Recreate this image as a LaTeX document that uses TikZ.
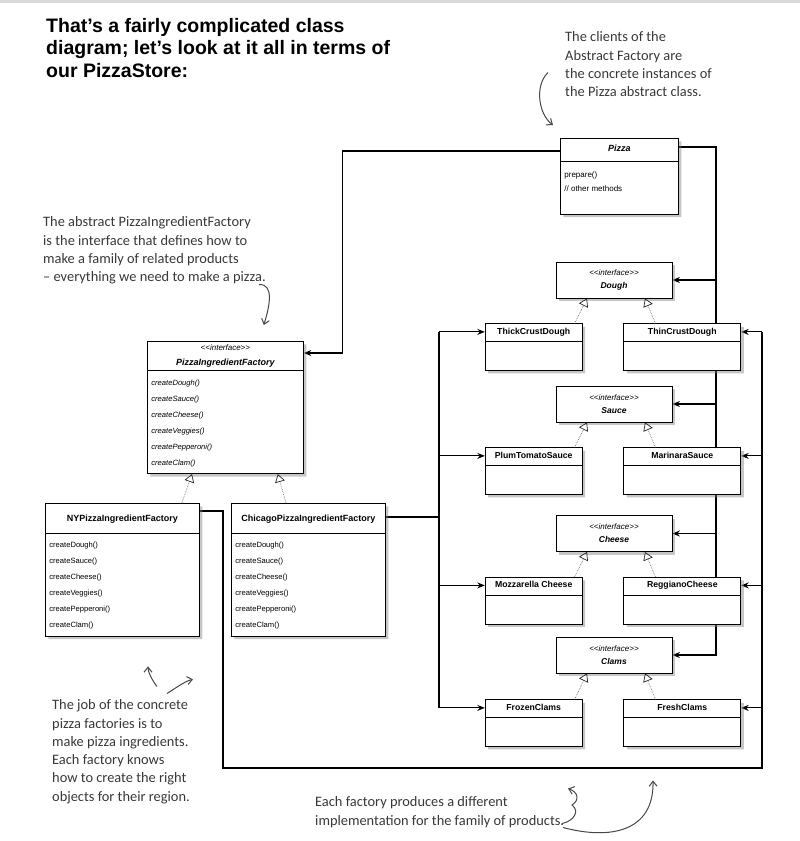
\documentclass[tikz,border=0pt]{standalone}
\usepackage{fontspec}
\setmainfont{Liberation Sans}
\newfontfamily\handfont{Carlito}
\usetikzlibrary{arrows.meta, positioning, calc, shapes.multipart, shadows, backgrounds}

% <<interface>> without the guillemet ligature
\newcommand{\stereo}{\textit{<\kern0pt<interface>\kern0pt>}}
\newcommand{\ifname}[1]{{\fontsize{8.5}{13}\selectfont\bfseries\itshape #1}}
\newcommand{\cname}[1]{{\fontsize{9}{15}\selectfont\bfseries #1}}
\newcommand{\opslist}[1]{\fontsize{7.6}{16}\selectfont\begin{tabular}{@{}l@{}}#1\end{tabular}}
\newcommand{\hstrut}{\rule[-4pt]{0pt}{11pt}}

\begin{document}
\begin{tikzpicture}[
    x=1pt, y=-1pt,
    >={Stealth[length=7.5pt,width=6pt]},
    umlbox/.style={draw, fill=white, line width=0.8pt,
      drop shadow={opacity=0.45, shadow xshift=3pt, shadow yshift=-3pt}},
    iface/.style={umlbox, minimum width=116pt, minimum height=36pt,
      inner sep=0pt, align=center, font=\fontsize{8}{13}\selectfont},
    product/.style={umlbox, rectangle split, rectangle split parts=2,
      rectangle split empty part height=22pt, rectangle split empty part depth=0pt,
      inner xsep=2pt, inner ysep=3pt, font=\bfseries\fontsize{8.7}{10}\selectfont},
    factory/.style={umlbox, rectangle split, rectangle split parts=2,
      rectangle split part align={center,left}, minimum width=154pt,
      inner xsep=4pt, inner ysep=3pt, align=center, font=\fontsize{8}{15}\selectfont},
    conn/.style={line width=1.1pt, ->},
    wire/.style={line width=1.1pt},
    realize/.style={densely dotted, line width=0.7pt, black!55,
      -{Triangle[open, length=8pt, width=10pt, color=black!85]}},
    note/.style={anchor=north west, align=left, inner sep=0pt, text=black!78,
      font=\handfont\fontsize{14.4}{18.3}\selectfont},
    hand/.style={line width=1pt, black!72, -{Straight Barb[length=5pt, width=8pt]}}
  ]
    \useasboundingbox (0,0) rectangle (800,841);
    \fill[black!15] (0,0) rectangle (800,2.5);

    % Title
    \node[anchor=north west, align=left, inner sep=0pt,
      font=\bfseries\fontsize{19.5}{22.5}\selectfont] (title) at (46,18)
      {That’s a fairly complicated class\\diagram; let’s look at it all in terms of\\our PizzaStore:};

    % Client and abstract factory
    \node[factory, minimum width=118pt, anchor=north west] (pizza) at (560,138)
      {\rule[-6pt]{0pt}{16pt}\cname{\itshape Pizza}\nodepart{two}\fontsize{8}{14}\selectfont
       \begin{tabular}{@{}l@{}}\rule{0pt}{13pt}prepare()\\// other methods\rule[-19pt]{0pt}{0pt}\end{tabular}};
    \node[factory, minimum width=156pt, anchor=north west] (pif) at (147,341)
      {\stereo\\\cname{\itshape PizzaIngredientFactory}\nodepart{two}\itshape
       \opslist{createDough()\\createSauce()\\createCheese()\\createVeggies()\\createPepperoni()\\createClam()}};

    % Concrete factories
    \node[factory, anchor=north west] (ny) at (45,503)
      {\rule[-8.5pt]{0pt}{23pt}\cname{NYPizzaIngredientFactory}\nodepart{two}
       \opslist{createDough()\\createSauce()\\createCheese()\\createVeggies()\\createPepperoni()\\createClam()}};
    \node[factory, anchor=north west] (chicago) at (231,503)
      {\rule[-8.5pt]{0pt}{23pt}\cname{ChicagoPizzaIngredientFactory}\nodepart{two}
       \opslist{createDough()\\createSauce()\\createCheese()\\createVeggies()\\createPepperoni()\\createClam()}};

    % Ingredient interfaces
    \node[iface] (dough)  at (614,280)   {\stereo\\\ifname{Dough}};
    \node[iface] (sauce)  at (614,404)   {\stereo\\\ifname{Sauce}};
    \node[iface] (cheese) at (614,533.5) {\stereo\\\ifname{Cheese}};
    \node[iface] (clams)  at (614,655)   {\stereo\\\ifname{Clams}};

    % Concrete ingredients
    \node[product, minimum width=97pt, below left=25pt and -27pt of dough.south west] (thick)
      {\hstrut ThickCrustDough\nodepart{two}};
    \node[product, minimum width=117pt, below right=25pt and -49pt of dough.south east] (thin)
      {\hstrut ThinCrustDough\nodepart{two}};
    \node[product, minimum width=97pt, below left=25pt and -27pt of sauce.south west] (plum)
      {\hstrut PlumTomatoSauce\nodepart{two}};
    \node[product, minimum width=117pt, below right=25pt and -49pt of sauce.south east] (marinara)
      {\hstrut MarinaraSauce\nodepart{two}};
    \node[product, minimum width=97pt, below left=25pt and -27pt of cheese.south west] (mozz)
      {\hstrut Mozzarella Cheese\nodepart{two}};
    \node[product, minimum width=117pt, below right=25pt and -49pt of cheese.south east] (reggiano)
      {\hstrut ReggianoCheese\nodepart{two}};
    \node[product, minimum width=97pt, below left=26pt and -27pt of clams.south west] (frozen)
      {\hstrut FrozenClams\nodepart{two}};
    \node[product, minimum width=117pt, below right=26pt and -49pt of clams.south east] (fresh)
      {\hstrut FreshClams\nodepart{two}};

    % Notes
    \node[note] (clientnote) at (565,31.5)
      {The clients of the\\Abstract Factory are\\the concrete instances of\\the Pizza abstract class.};
    \node[note] (factorynote) at (43,216.5)
      {The abstract PizzaIngredientFactory\\is the interface that defines how to\\make a family of related products\\– everything we need to make a pizza.};
    \node[note] (jobnote) at (52,699.5)
      {The job of the concrete\\pizza factories is to\\make pizza ingredients.\\Each factory knows\\how to create the right\\objects for their region.};
    \node[note] (implnote) at (315,796.5)
      {Each factory produces a different\\implementation for the family of products.};

    % Connector points
    \coordinate (pztrunk) at (716,0);
    \coordinate (nyleft) at (223,0);
    \coordinate (nyright) at (762,0);
    \coordinate (nybottom) at (0,768);
    \coordinate (chtrunk) at (439,0);
    \coordinate (thickin) at ($(thick.north west)+(0,8.5)$);
    \coordinate (plumin) at ($(plum.north west)+(0,8.5)$);
    \coordinate (mozzin) at ($(mozz.north west)+(0,8.5)$);
    \coordinate (frozenin) at ($(frozen.north west)+(0,8.5)$);
    \coordinate (thinin) at ($(thin.north east)+(0,8.5)$);
    \coordinate (marinarain) at ($(marinara.north east)+(0,8.5)$);
    \coordinate (reggianoin) at ($(reggiano.north east)+(0,8.5)$);
    \coordinate (freshin) at ($(fresh.north east)+(0,8.5)$);

    \begin{scope}[on background layer]
      % Pizza -> factory and ingredient interfaces
      \draw[conn] ($(pizza.north west)+(0,13)$) -| ($(pif.north east)+(39,12)$) -- ($(pif.north east)+(0,12)$);
      \draw[conn] ($(pizza.north east)+(0,9)$) -| (pztrunk |- clams.east) -- (clams.east);
      \draw[conn] (pztrunk |- dough.east) -- (dough.east);
      \draw[conn] (pztrunk |- sauce.east) -- (sauce.east);
      \draw[conn] (pztrunk |- cheese.east) -- (cheese.east);

      % NY factory -> its ingredients
      \draw[wire] ($(ny.north east)+(0,8)$) -| (nyleft |- nybottom) -| (nyright |- thinin);
      \draw[conn] (nyright |- thinin) -- (thinin);
      \draw[conn] (nyright |- marinarain) -- (marinarain);
      \draw[conn] (nyright |- reggianoin) -- (reggianoin);
      \draw[conn] (nyright |- freshin) -- (freshin);

      % Chicago factory -> its ingredients
      \draw[wire] ($(chicago.north east)+(0,14)$) -- (chtrunk |- {$(chicago.north east)+(0,14)$});
      \draw[wire] (chtrunk |- thickin) -- (chtrunk |- frozenin);
      \draw[conn] (chtrunk |- thickin) -- (thickin);
      \draw[conn] (chtrunk |- plumin) -- (plumin);
      \draw[conn] (chtrunk |- mozzin) -- (mozzin);
      \draw[conn] (chtrunk |- frozenin) -- (frozenin);
    \end{scope}

    % Realizations
    \draw[realize] ($(ny.north east)+(-18,0)$) -- ($(pif.south west)+(45,0)$);
    \draw[realize] ($(chicago.north west)+(55,0)$) -- ($(pif.south east)+(-26,0)$);
    \draw[realize] ($(thick.north east)+(-8,0)$) -- ($(dough.south)+(-27,0)$);
    \draw[realize] ($(thin.north west)+(32,0)$) -- ($(dough.south)+(31,0)$);
    \draw[realize] ($(plum.north east)+(-8,0)$) -- ($(sauce.south)+(-27,0)$);
    \draw[realize] ($(marinara.north west)+(32,0)$) -- ($(sauce.south)+(31,0)$);
    \draw[realize] ($(mozz.north east)+(-8,0)$) -- ($(cheese.south)+(-27,0)$);
    \draw[realize] ($(reggiano.north west)+(32,0)$) -- ($(cheese.south)+(31,0)$);
    \draw[realize] ($(frozen.north east)+(-8,0)$) -- ($(clams.south)+(-27,0)$);
    \draw[realize] ($(fresh.north west)+(32,0)$) -- ($(clams.south)+(31,0)$);

    % Hand-drawn arrows
    \draw[hand] ($(clientnote.north west)+(-17,41)$) .. controls (534,86) and (539,115) .. ($(pizza.north west)+(-7,-13)$);
    \draw[hand] ($(factorynote.north west)+(216,68)$) .. controls (274,284) and (270,305) .. ($(pif.north east)+(-40,-16)$);
    \draw[hand] ($(jobnote.north west)+(105,-13)$) .. controls (152,680) and (148,672) .. ($(ny.south west)+(103,30)$);
    \draw[hand] ($(jobnote.north west)+(115,-6)$) .. controls (176,688) and (185,681) .. ($(ny.south west)+(148,43)$);
    \draw[hand] ($(implnote.north west)+(247,27)$) .. controls (574,821) and (580,811) .. (572,805)
      .. controls (580,800) and (578,792) .. ($(implnote.north west)+(253,-8)$);
    \draw[hand] ($(implnote.north west)+(248,31)$) .. controls (610,840) and (654,832) .. ($(implnote.north west)+(338,-16)$);
  \end{tikzpicture}
\end{document}
